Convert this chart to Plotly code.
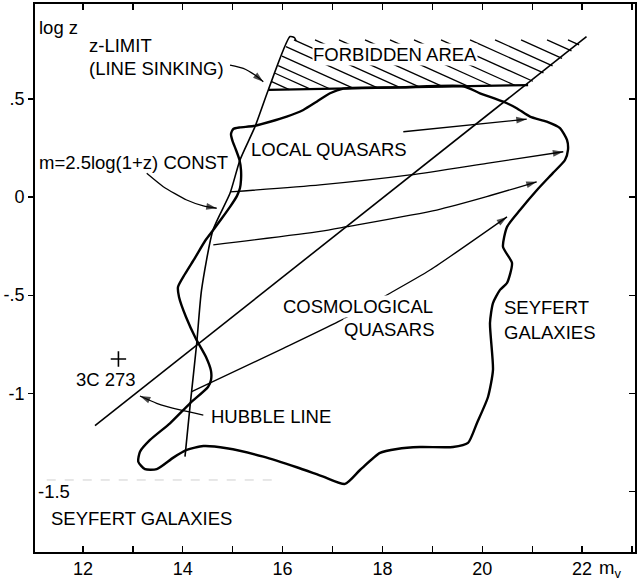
import plotly.graph_objects as go

# ---------------- axes ----------------
x_range = [11.038, 23.062]
y_range = [-1.809, 0.984]
x_tick_vals = [12, 14, 16, 18, 20, 22]
x_tick_text = ["12", "14", "16", "18", "20", "22"]
x_minor_step = 1
y_tick_vals = [0.5, 0, -0.5, -1]
y_tick_text = [".5", "0", "-.5", "-1"]
y_right_tick_vals = [0.5, 0, -0.5, -1, -1.5]

# ---------------- outline of the quasar / Seyfert region ----------------
blob_m = [15.413, 15.146, 15.012, 14.966, 14.996, 15.066, 15.136, 15.166, 15.166, 15.146,
          15.086, 14.946, 14.786, 14.625, 14.445, 14.244, 14.044, 13.904, 13.924, 14.064,
          14.265, 14.465, 14.565, 14.565, 14.505, 14.144, 13.743, 13.343, 13.142, 13.108,
          13.242, 13.477, 13.810, 14.078, 14.411, 14.880, 15.613, 16.283, 16.816, 17.250,
          17.551, 17.952, 18.293, 18.754, 19.415, 19.715, 19.896, 20.116, 20.216, 20.156,
          20.216, 20.357, 20.497, 20.597, 20.417, 20.497, 20.758, 21.098, 21.419, 21.659,
          21.719, 21.699, 21.559, 21.293, 20.958, 20.691, 20.423, 19.956, 19.621, 18.353,
          17.216, 16.950, 16.683, 16.415, 16.082, 15.747, 15.413]
blob_logz = [0.362, 0.355, 0.347, 0.322, 0.286, 0.240, 0.189, 0.138, 0.087, 0.046,
             0.006, -0.050, -0.107, -0.163, -0.224, -0.310, -0.392, -0.458, -0.509, -0.611,
             -0.723, -0.815, -0.886, -0.932, -0.968, -1.051, -1.153, -1.238, -1.298, -1.349,
             -1.387, -1.387, -1.328, -1.289, -1.269, -1.280, -1.323, -1.377, -1.425, -1.462,
             -1.391, -1.304, -1.284, -1.274, -1.274, -1.253, -1.151, -1.019, -0.881, -0.642,
             -0.540, -0.473, -0.438, -0.336, -0.254, -0.152, -0.066, 0.036, 0.123, 0.189,
             0.240, 0.291, 0.351, 0.384, 0.410, 0.453, 0.486, 0.529, 0.565, 0.559,
             0.553, 0.529, 0.486, 0.444, 0.410, 0.384, 0.362]

# ---------------- m = 2.5 log(1+z) + const  (z-limit) line ----------------
zlim_m = [16.27, 16.24, 16.148, 15.713, 15.447, 15.146, 14.946, 14.605, 14.375, 14.279, 14.144, 14.044]
zlim_logz = [0.795, 0.812, 0.818, 0.546, 0.359, 0.189, 0.019, -0.168, -0.474, -0.745, -1.068, -1.323]

# ---------------- Hubble line ----------------
hubble_m = [12.24, 22.09]
hubble_logz = [-1.165, 0.818]

# ---------------- forbidden area ----------------
base_m = [15.713, 20.92]
base_logz = [0.546, 0.571]
hatch_poly_m = [15.713, 16.121, 22.07, 20.92]
hatch_poly_logz = [0.546, 0.801, 0.801, 0.571]
hatch_top_m = [13.924, 14.365, 14.766, 15.267, 15.768, 16.228, 16.649, 17.130, 17.651,
               18.152, 18.633, 19.174, 19.756, 20.257, 20.778, 21.299, 21.719]
hatch_top_logz = 0.801
hatch_slope = -0.1145

# ---------------- evolution arrows ----------------
arrow_a_m = [18.419, 20.892]
arrow_a_logz = [0.333, 0.397]
arrow_b_m = [14.946, 16.749, 18.553, 20.090, 21.625]
arrow_b_logz = [0.026, 0.062, 0.113, 0.172, 0.231]
arrow_c_m = [14.611, 16.749, 17.285, 19.088, 20.090, 21.092]
arrow_c_logz = [-0.244, -0.175, -0.151, -0.066, 0.002, 0.078]
arrow_d_m = [14.178, 16.014, 17.116, 18.152, 18.954, 20.497]
arrow_d_logz = [-0.992, -0.771, -0.635, -0.490, -0.372, -0.101]

# ---------------- label pointers ----------------
ptr_const_m = [13.277, 13.609, 14.078, 14.411, 14.679]
ptr_const_logz = [0.121, 0.053, -0.015, -0.045, -0.057]
ptr_zlim_m = [14.946, 15.212, 15.447, 15.613]
ptr_zlim_logz = [0.673, 0.656, 0.622, 0.588]
ptr_hubble_m = [14.411, 13.944, 13.477, 13.142]
ptr_hubble_logz = [-1.111, -1.085, -1.051, -1.014]

# ---------------- 3C 273 ----------------
src_m = [12.71]
src_logz = [-0.825]

# faint scanner trace
scan_m = [11.273, 15.948]
scan_logz = [-1.442, -1.442]

FONT = "Liberation Sans, Arial, Helvetica, sans-serif"
FS = 18.5

fig = go.Figure()


def line(xs, ys, w, shape="linear", color="black", dash="solid"):
    fig.add_trace(go.Scatter(x=xs, y=ys, mode="lines",
                             line=dict(color=color, width=w, shape=shape, dash=dash,
                                       smoothing=0.6 if shape == "spline" else None),
                             hoverinfo="skip", showlegend=False))


line(scan_m, scan_logz, 1, color="#cfcfcf", dash="dash")


def clip_hatch(x0):
    pts = []
    n = len(hatch_poly_m)
    for i in range(n):
        ax_, ay_ = hatch_poly_m[i], hatch_poly_logz[i]
        bx_, by_ = hatch_poly_m[(i + 1) % n], hatch_poly_logz[(i + 1) % n]
        fa = ay_ - hatch_top_logz - hatch_slope * (ax_ - x0)
        fb = by_ - hatch_top_logz - hatch_slope * (bx_ - x0)
        if fa == fb:
            continue
        t = fa / (fa - fb)
        if -1e-9 <= t <= 1 + 1e-9:
            pts.append((ax_ + t * (bx_ - ax_), ay_ + t * (by_ - ay_)))
    if len(pts) < 2:
        return None
    pts.sort()
    return pts[0], pts[-1]


hx, hy = [], []
for x0 in hatch_top_m:
    seg = clip_hatch(x0)
    if seg:
        hx += [seg[0][0], seg[1][0], None]
        hy += [seg[0][1], seg[1][1], None]
line(hx, hy, 1.3)
line(base_m, base_logz, 2.2)

line(hubble_m, hubble_logz, 1.6)
line(zlim_m, zlim_logz, 1.6, shape="spline")
line(blob_m, blob_logz, 2.4, shape="spline")

arrows = [(arrow_a_m, arrow_a_logz), (arrow_b_m, arrow_b_logz),
          (arrow_c_m, arrow_c_logz), (arrow_d_m, arrow_d_logz),
          (ptr_const_m, ptr_const_logz), (ptr_zlim_m, ptr_zlim_logz),
          (ptr_hubble_m, ptr_hubble_logz)]
for xs, ys in arrows:
    n = len(xs)
    fig.add_trace(go.Scatter(
        x=xs, y=ys, mode="lines+markers",
        line=dict(color="black", width=1.3, shape="spline", smoothing=0.6),
        marker=dict(symbol="arrow", angleref="previous", color="black",
                    size=[0] * (n - 1) + [11], line=dict(width=0)),
        hoverinfo="skip", showlegend=False))

fig.add_trace(go.Scatter(x=src_m, y=src_logz, mode="markers",
                         marker=dict(symbol="cross-thin", size=11,
                                     line=dict(width=1.6, color="black")),
                         hoverinfo="skip", showlegend=False))

fig.add_trace(go.Scatter(x=[x_range[0]], y=[y_range[0]], yaxis="y2", mode="markers",
                         marker=dict(size=0, opacity=0), showlegend=False,
                         hoverinfo="skip"))

annotations = []
labels = [
    ("log z", 11.098, 0.864, "left", None),
    ("z-LIMIT", 12.10, 0.775, "left", None),
    ("(LINE SINKING)", 12.10, 0.653, "left", None),
    ("FORBIDDEN AREA", 18.253, 0.729, "center", "white"),
    ("LOCAL QUASARS", 16.93, 0.245, "center", None),
    ("m=2.5log(1+z) CONST", 11.092, 0.174, "left", None),
    ("COSMOLOGICAL", 17.501, -0.559, "center", "white"),
    ("QUASARS", 18.132, -0.677, "center", "white"),
    ("SEYFERT", 20.417, -0.565, "left", None),
    ("GALAXIES", 20.417, -0.688, "left", None),
    ("3C 273", 12.461, -0.929, "center", None),
    ("HUBBLE LINE", 14.545, -1.116, "left", None),
    ("-1.5", 11.078, -1.503, "left", None),
    ("SEYFERT GALAXIES", 11.339, -1.637, "left", None),
]
for txt, x, y, xa, bg in labels:
    a = dict(text=txt, x=x, y=y, xref="x", yref="y", xanchor=xa, yanchor="middle",
             showarrow=False, font=dict(family=FONT, size=FS, color="black"),
             borderpad=0)
    if bg:
        a["bgcolor"] = bg
    annotations.append(a)

annotations.append(dict(text="m<sub>v</sub>", x=22.561, y=-0.031, xref="x", yref="paper",
                        xanchor="center", yanchor="middle", showarrow=False,
                        font=dict(family=FONT, size=FS, color="black")))

fig.update_layout(
    width=639, height=582,
    margin=dict(l=35, r=4, t=4, b=30, autoexpand=False),
    plot_bgcolor="white", paper_bgcolor="white",
    showlegend=False, hovermode=False,
    font=dict(family=FONT, size=18, color="black"),
    annotations=annotations,
    xaxis=dict(range=x_range, tickvals=x_tick_vals, ticktext=x_tick_text,
               ticks="inside", ticklen=6, tickwidth=1.2, tickcolor="black",
               minor=dict(tick0=x_tick_vals[0], dtick=x_minor_step, ticks="inside",
                          ticklen=6, tickwidth=1.2, tickcolor="black", showgrid=False),
               showline=True, linewidth=1.8, linecolor="black", mirror="ticks",
               showgrid=False, zeroline=False, automargin=False,
               tickfont=dict(family=FONT, size=18)),
    yaxis=dict(range=y_range, tickvals=y_tick_vals, ticktext=y_tick_text,
               ticks="outside", ticklen=5, tickwidth=1.2, tickcolor="black",
               showline=True, linewidth=1.8, linecolor="black", mirror=True,
               showgrid=False, zeroline=False, automargin=False,
               tickfont=dict(family=FONT, size=18)),
    yaxis2=dict(range=y_range, overlaying="y", side="right", tickvals=y_right_tick_vals,
                ticks="inside", ticklen=6, tickwidth=1.2, tickcolor="black",
                showticklabels=False, showline=False, showgrid=False, zeroline=False,
                automargin=False),
)

fig.write_html("out.html",
               config={"displayModeBar": False, "staticPlot": True},
               post_script="document.body.style.margin='0';document.body.style.overflow='hidden';")
